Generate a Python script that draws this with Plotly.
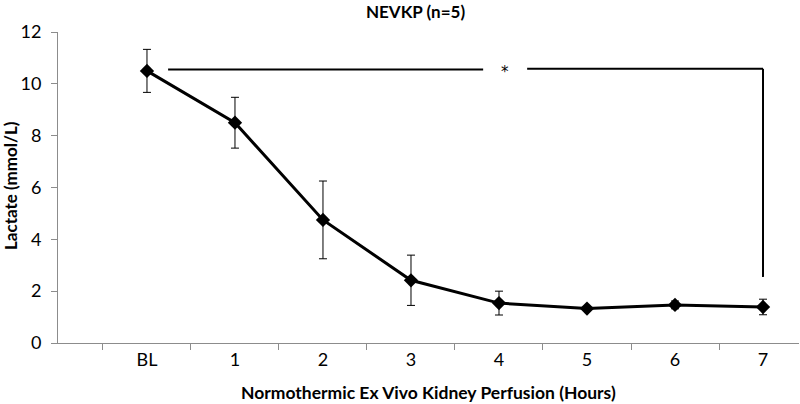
import plotly.graph_objects as go

categories = ["BL", "1", "2", "3", "4", "5", "6", "7"]
lactate = [10.5, 8.5, 4.75, 2.42, 1.54, 1.33, 1.47, 1.39]
lactate_err = [0.83, 0.98, 1.5, 0.97, 0.46, 0.05, 0.15, 0.3]

bracket_start = "BL"
bracket_end = "7"
bracket_y = 10.55
bracket_bottom = 2.55
star_label = "*"

title_text = "NEVKP (n=5)"
x_title = "Normothermic Ex Vivo Kidney Perfusion (Hours)"
y_title = "Lactate (mmol/L)"

FONT = "Lato"
W, H = 800, 404
L, R, T, B = 58, 1, 32, 61

fig = go.Figure()
fig.add_trace(go.Scatter(
    x=categories, y=lactate,
    mode="lines+markers",
    line=dict(color="black", width=3),
    marker=dict(symbol="diamond", size=11, color="black"),
    error_y=dict(type="data", array=lactate_err, visible=True,
                 color="black", thickness=1, width=4),
    showlegend=False,
    hoverinfo="skip",
))

i0 = categories.index(bracket_start)
i1 = categories.index(bracket_end)
star_x = 4.07
gap = 0.25
line_style = dict(color="black", width=2)
fig.add_shape(type="line", xref="x", yref="y", x0=i0 + 0.24, x1=star_x - gap,
              y0=bracket_y, y1=bracket_y, line=line_style)
fig.add_shape(type="line", xref="x", yref="y", x0=star_x + gap, x1=i1,
              y0=bracket_y + 0.03, y1=bracket_y + 0.03, line=line_style)
fig.add_shape(type="line", xref="x", yref="y", x0=i1, x1=i1,
              y0=bracket_y + 0.03, y1=bracket_bottom, line=line_style)
fig.add_annotation(x=star_x, y=bracket_y, xref="x", yref="y", text=star_label,
                   showarrow=False, font=dict(family="DejaVu Sans", size=15, color="#000000"),
                   yshift=-2)

pw = W - L - R
ph = H - T - B
fig.add_annotation(text="<b>%s</b>" % title_text, xref="paper", yref="paper",
                   x=(415 - L) / pw, y=(H - B - 11) / ph, showarrow=False,
                   xanchor="center", yanchor="middle",
                   font=dict(family=FONT, size=17, color="black"))
fig.add_annotation(text="<b>%s</b>" % x_title, xref="paper", yref="paper",
                   x=(428 - L) / pw, y=(H - B - 392) / ph, showarrow=False,
                   xanchor="center", yanchor="middle",
                   font=dict(family=FONT, size=17.5, color="black"))
fig.add_annotation(text="<b>%s</b>" % y_title, xref="paper", yref="paper",
                   x=(10 - L) / pw, y=(H - B - 186) / ph, showarrow=False,
                   xanchor="center", yanchor="middle", textangle=-90,
                   font=dict(family=FONT, size=17, color="black"))

fig.update_layout(
    width=W, height=H,
    margin=dict(l=L, r=R, t=T, b=B, autoexpand=False),
    paper_bgcolor="white", plot_bgcolor="white",
    font=dict(family=FONT, color="black"),
)
fig.update_xaxes(
    type="category", categoryorder="array", categoryarray=categories,
    range=[-1.011, 7.409], automargin=False,
    tickson="boundaries", ticks="outside", ticklen=6, tickcolor="#8c8c8c",
    showline=True, linecolor="#8c8c8c", linewidth=1, showgrid=False,
    tickfont=dict(family=FONT, size=18, color="black"),
)
fig.update_yaxes(
    range=[0, 12], dtick=2, ticks="outside", ticklen=6, tickcolor="#8c8c8c",
    showline=True, linecolor="#8c8c8c", linewidth=1, showgrid=False,
    zeroline=False, automargin=False, ticklabelstandoff=6,
    tickfont=dict(family=FONT, size=18, color="black"),
)

fig.write_html("out.html",
               config={"displayModeBar": False},
               post_script="document.body.style.margin='0';document.body.style.padding='0';")
